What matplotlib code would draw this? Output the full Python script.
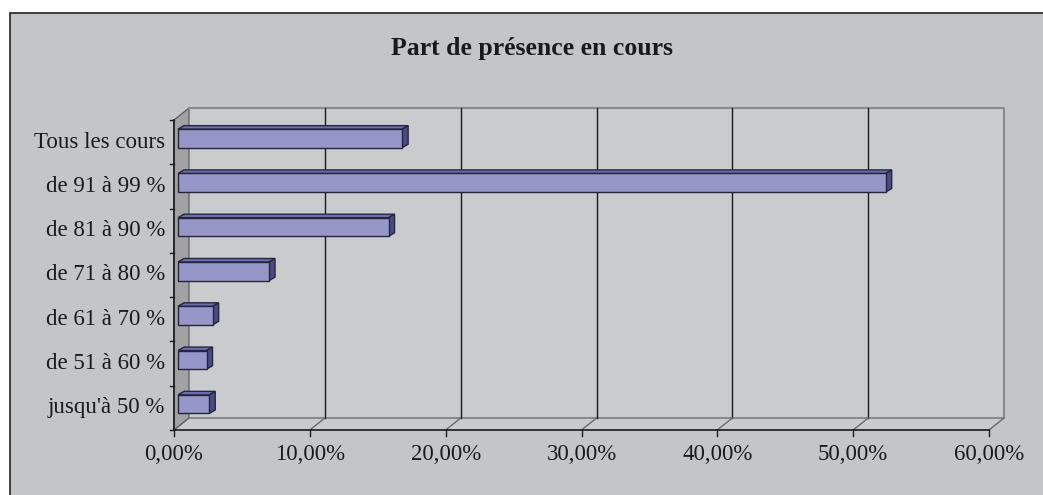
import matplotlib.pyplot as plt
from matplotlib.patches import Polygon, Rectangle
import numpy as np

# data (top to bottom as in the chart)
categories = ["Tous les cours", "de 91 à 99 %", "de 81 à 90 %", "de 71 à 80 %",
              "de 61 à 70 %", "de 51 à 60 %", "jusqu'à 50 %"]
values = [16.5, 52.1, 15.5, 6.7, 2.55, 2.1, 2.3]
xticks = [0, 10, 20, 30, 40, 50, 60]
xlabels = ["0,00%", "10,00%", "20,00%", "30,00%", "40,00%", "50,00%", "60,00%"]
title = "Part de présence en cours"

W, H = 1043, 495
BG = "#c4c5c7"
WALL = "#cacbcd"
SIDE = "#a2a2a4"
FRONT = "#9696c8"
TOP = "#6e6eb4"
RIGHT = "#4b4b82"
EDGE = "#25253d"
TXT = "#1a1a1a"

plt.rcParams['font.family'] = ['Liberation Serif', 'DejaVu Serif']

fig = plt.figure(figsize=(W / 100, H / 100), dpi=100)
fig.patch.set_facecolor("white")
# chart area with border on left and top
fig.patches.append(Rectangle((10 / W, -0.05), 1.1, (H - 13) / H + 0.05,
                             transform=fig.transFigure, facecolor=BG,
                             edgecolor="#222222", linewidth=1.2, zorder=-5))

# front plane in pixels
x0, x1, ytop, ybot = 174, 989, 120, 430
ax = fig.add_axes([x0 / W, (H - ybot) / H, (x1 - x0) / W, (ybot - ytop) / H])
ax.set_zorder(2)
ax.set_xlim(0, 60)
ax.set_ylim(0, len(categories))
ax.axis("off")

pxx = (x1 - x0) / 60.0
pxy = (ybot - ytop) / len(categories)


def off(x, y, dxp, dyp):
    return (x + dxp / pxx, y + dyp / pxy)


WDX, WDY = 15, 12  # wall depth in pixels
n = len(categories)
kw = dict(clip_on=False)

# back wall
ax.add_patch(Polygon([off(0, 0, WDX, WDY), off(60, 0, WDX, WDY),
                      off(60, n, WDX, WDY), off(0, n, WDX, WDY)],
                     facecolor=WALL, edgecolor="none", zorder=1, **kw))
# floor
ax.add_patch(Polygon([(0, 0), (60, 0), off(60, 0, WDX, WDY), off(0, 0, WDX, WDY)],
                     facecolor=WALL, edgecolor="none", zorder=1, **kw))
# side wall
ax.add_patch(Polygon([(0, 0), (0, n), off(0, n, WDX, WDY), off(0, 0, WDX, WDY)],
                     facecolor=SIDE, edgecolor="#555555", linewidth=0.8, zorder=2, **kw))

# back wall border (top, right) and floor back edge
bx, by = zip(*[off(0, n, WDX, WDY), off(60, n, WDX, WDY), off(60, 0, WDX, WDY),
               off(0, 0, WDX, WDY)])
ax.plot(bx, by, color="#8a8a8a", linewidth=1.5, zorder=2, **kw)

# gridlines on back wall and diagonals on floor
for t, lab in zip(xticks, xlabels):
    gx, gy = zip(*[off(t, 0, WDX, WDY), off(t, n, WDX, WDY)])
    if 0 < t < 60:
        ax.plot(gx, gy, color="#1a1a1a", linewidth=1.0, zorder=2, **kw)
    fx, fy = zip(*[(t, 0), off(t, 0, WDX, WDY)])
    ax.plot(fx, fy, color="#6a6a6a", linewidth=1.0, zorder=2, **kw)
    ax.plot([t, t], [0, -6 / pxy], color="#1a1a1a", linewidth=1.0, zorder=3, **kw)
    ax.text(t, -25 / pxy, lab, ha="center", va="center",
            fontsize=16.5, color=TXT)

# axes lines
ax.plot([0, 60], [0, 0], color="#1a1a1a", linewidth=1.2, zorder=3, **kw)
ax.plot([0, 0], [0, n], color="#1a1a1a", linewidth=1.2, zorder=3, **kw)
for i in range(n + 1):
    ax.plot([0, -4 / pxx], [i, i], color="#1a1a1a", linewidth=1.0, zorder=3, **kw)

# bars
bh = 0.42
fdx, fdy = 4, 3.7   # front face offset
bdx, bdy = 10, 7.2  # back face offset
for k, (cat, v) in enumerate(zip(categories, values)):
    yc = n - k - 0.5
    ax.text(-9 / pxx, yc, cat, ha="right", va="center", fontsize=16.5, color=TXT)
    yb, yt = yc - bh / 2, yc + bh / 2
    front = [off(0, yb, fdx, fdy), off(v, yb, fdx, fdy), off(v, yt, fdx, fdy), off(0, yt, fdx, fdy)]
    top = [off(0, yt, fdx, fdy), off(v, yt, fdx, fdy), off(v, yt, bdx, bdy), off(0, yt, bdx, bdy)]
    right = [off(v, yb, fdx, fdy), off(v, yb, bdx, bdy), off(v, yt, bdx, bdy), off(v, yt, fdx, fdy)]
    for poly, c in [(top, TOP), (right, RIGHT), (front, FRONT)]:
        ax.add_patch(Polygon(poly, facecolor=c, edgecolor=EDGE, linewidth=1.0,
                             joinstyle="miter", zorder=5, **kw))

fig.text(532 / W, 1 - 48 / H, title, ha="center", va="center", fontsize=18.5,
         fontweight="bold", color=TXT)

fig.savefig("out.png", dpi=100, facecolor=fig.get_facecolor())
